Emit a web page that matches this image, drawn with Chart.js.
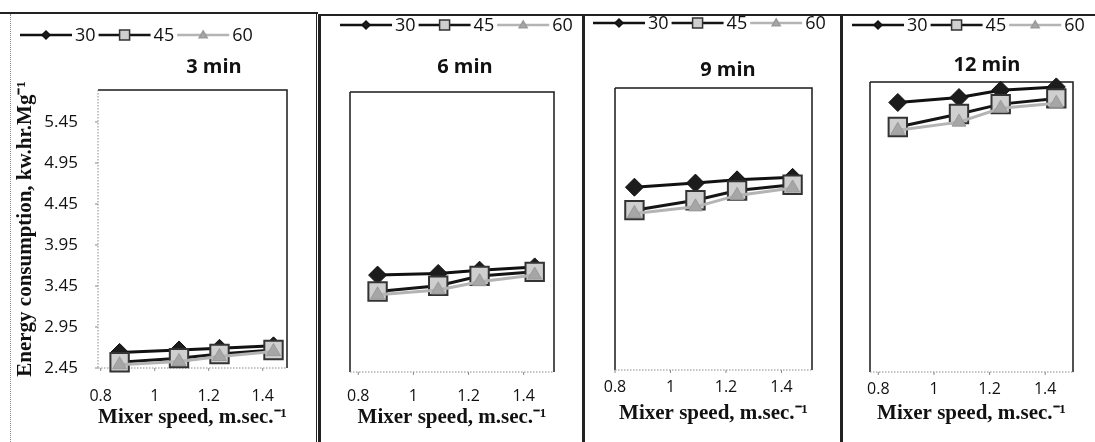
<!DOCTYPE html>
<html>
<head>
<meta charset="utf-8">
<script src="https://cdn.jsdelivr.net/npm/chart.js@4.4.1/dist/chart.umd.min.js"></script>
<style>
body{margin:0;background:#fff;width:1095px;height:442px;overflow:hidden;position:relative}
canvas{position:absolute}
.ln{position:absolute;background:#222}
</style>
</head>
<body>
<div class="ln" style="left:0;top:12px;width:318px;height:2px"></div>
<div style="position:absolute;left:10px;top:14px;width:0;height:428px;border-left:1px dotted #888"></div>
<div class="ln" style="left:316px;top:12px;width:1px;height:430px"></div>
<div class="ln" style="left:321px;top:14px;width:774px;height:2px"></div>
<div class="ln" style="left:318px;top:14px;width:3px;height:428px"></div>
<div class="ln" style="left:582px;top:14px;width:3px;height:428px"></div>
<div class="ln" style="left:840px;top:14px;width:3px;height:428px"></div>
<canvas id="c1" width="306" height="428" style="left:10px;top:14px"></canvas>
<canvas id="c2" width="261" height="426" style="left:321px;top:16px"></canvas>
<canvas id="c3" width="255" height="426" style="left:585px;top:16px"></canvas>
<canvas id="c4" width="252" height="426" style="left:843px;top:16px"></canvas>
<script>
// mixer speed, m/s
let speeds = [0.87, 1.09, 1.24, 1.44];
let xTicks = [0.8, 1, 1.2, 1.4];
let yTicks = [2.45, 2.95, 3.45, 3.95, 4.45, 4.95, 5.45];
let seriesNames = ['30', '45', '60'];

// energy consumption, kw.hr/Mg
let min3_30 = [2.64, 2.67, 2.69, 2.72];
let min3_45 = [2.52, 2.57, 2.62, 2.67];
let min3_60 = [2.49, 2.53, 2.59, 2.65];

let min6_30 = [3.63, 3.65, 3.69, 3.73];
let min6_45 = [3.43, 3.50, 3.62, 3.67];
let min6_60 = [3.39, 3.45, 3.55, 3.63];

let min9_30 = [4.68, 4.73, 4.77, 4.80];
let min9_45 = [4.40, 4.52, 4.64, 4.71];
let min9_60 = [4.36, 4.44, 4.58, 4.67];

let min12_30 = [5.74, 5.80, 5.89, 5.93];
let min12_45 = [5.44, 5.60, 5.72, 5.79];
let min12_60 = [5.40, 5.50, 5.67, 5.73];

function pts(vals) {
    return vals.map((v, i) => ({x: speeds[i], y: v}));
}

function drawMark(ctx, style, x, y, r, fill, stroke) {
    ctx.fillStyle = fill;
    ctx.strokeStyle = stroke;
    ctx.lineWidth = 1.5;
    ctx.beginPath();
    if (style == 'rectRot') {
        ctx.moveTo(x, y - r); ctx.lineTo(x + r, y); ctx.lineTo(x, y + r); ctx.lineTo(x - r, y);
    } else if (style == 'rect') {
        ctx.rect(x - r, y - r, 2 * r, 2 * r);
    } else {
        ctx.moveTo(x, y - r); ctx.lineTo(x + r, y + r * 0.7); ctx.lineTo(x - r, y + r * 0.7);
    }
    ctx.closePath();
    ctx.fill();
    ctx.stroke();
}

const framePlugin = {
    id: 'frame',
    beforeDatasetsDraw(chart, args, opts) {
        const ctx = chart.ctx, a = chart.chartArea;
        ctx.save();
        ctx.strokeStyle = '#1a1a1a';
        ctx.lineWidth = 1.5;
        ctx.beginPath();
        ctx.moveTo(a.left, a.top); ctx.lineTo(a.right, a.top); ctx.lineTo(a.right, a.bottom);
        if (!opts.axisLeft) { ctx.moveTo(a.left, a.top); ctx.lineTo(a.left, a.bottom); }
        ctx.stroke();
        ctx.strokeStyle = '#8a8a8a';
        ctx.lineWidth = 1;
        ctx.setLineDash([1.5, 1.5]);
        ctx.beginPath();
        ctx.moveTo(a.left, a.bottom); ctx.lineTo(a.right, a.bottom);
        if (opts.axisLeft) { ctx.moveTo(a.left, a.top); ctx.lineTo(a.left, a.bottom); }
        ctx.stroke();
        ctx.setLineDash([]);
        ctx.beginPath();
        const xs = chart.scales.x;
        xs.ticks.forEach(t => {
            const px = xs.getPixelForValue(t.value);
            ctx.moveTo(px, a.bottom); ctx.lineTo(px, a.bottom + 3);
        });
        if (opts.axisLeft) {
            const ys = chart.scales.y;
            ys.ticks.forEach(t => {
                const py = ys.getPixelForValue(t.value);
                ctx.moveTo(a.left, py); ctx.lineTo(a.left - 3, py);
            });
        }
        ctx.stroke();
        ctx.restore();
    }
};

const legendPlugin = {
    id: 'panelLegend',
    afterDraw(chart, args, opts) {
        const ctx = chart.ctx;
        ctx.save();
        ctx.font = '18px "Open Sans"';
        ctx.textBaseline = 'middle';
        let x = opts.x;
        const y = opts.y;
        chart.data.datasets.forEach(ds => {
            ctx.strokeStyle = ds.borderColor;
            ctx.lineWidth = 2.5;
            ctx.beginPath(); ctx.moveTo(x, y); ctx.lineTo(x + opts.lineLen, y); ctx.stroke();
            drawMark(ctx, ds.pointStyle, x + opts.lineLen / 2, y, ds.legendRadius, ds.pointBackgroundColor, ds.pointBorderColor);
            x += opts.lineLen + 3;
            ctx.fillStyle = '#111';
            ctx.fillText(ds.label, x, y + 1);
            x += ctx.measureText(ds.label).width + 3;
        });
        ctx.font = 'bold 20px "Open Sans"';
        ctx.textAlign = 'center';
        ctx.fillStyle = '#111';
        ctx.fillText(opts.title, opts.tx, opts.ty);
        ctx.restore();
    }
};

function makeSets(s30, s45, s60) {
    return [
        {label: seriesNames[0], data: pts(s30), borderColor: '#111', borderWidth: 3,
         pointStyle: 'rectRot', pointRadius: 9, pointBackgroundColor: '#1c1c1c', pointBorderColor: '#111',
         pointBorderWidth: 1, legendRadius: 4, order: 3, clip: false},
        {label: seriesNames[1], data: pts(s45), borderColor: '#151515', borderWidth: 3,
         pointStyle: 'rect', pointRadius: 13, pointBackgroundColor: '#cfcfcf', pointBorderColor: '#333',
         pointBorderWidth: 2, legendRadius: 5, order: 2, clip: false},
        {label: seriesNames[2], data: pts(s60), borderColor: '#b4b4b4', borderWidth: 3,
         pointStyle: 'triangle', pointRadius: 8, pointBackgroundColor: '#a6a6a6', pointBorderColor: '#9a9a9a',
         pointBorderWidth: 1, legendRadius: 4, order: 1, clip: false}
    ];
}

function init(p) {
    return new Chart(document.getElementById(p.id), {
        type: 'line',
        data: {datasets: makeSets(p.s30, p.s45, p.s60)},
        plugins: [framePlugin, legendPlugin],
        options: {
            responsive: false,
            animation: false,
            layout: {padding: p.pad},
            plugins: {
                legend: {display: false},
                tooltip: {enabled: false},
                frame: {axisLeft: p.showY},
                panelLegend: {x: p.legendX, y: p.legendY, lineLen: 52, title: p.title, tx: p.titleX, ty: p.titleY}
            },
            scales: {
                x: {
                    type: 'linear', min: p.xMin, max: p.xMax,
                    grid: {display: false, drawTicks: false},
                    border: {display: false},
                    afterBuildTicks: s => { s.ticks = xTicks.map(v => ({value: v})); },
                    afterFit: s => { s.height = p.xH; },
                    ticks: {color: '#111', padding: p.xTickPad, font: {family: 'Open Sans', size: 16},
                            callback: v => String(v)},
                    title: {display: true, text: 'Mixer speed, m.sec.\u207B\u00B9', color: '#111',
                            padding: {top: 0, bottom: p.xTitlePad},
                            font: {family: 'Liberation Serif', size: 21, weight: 'bold'}}
                },
                y: {
                    display: p.showY, min: 2.45, max: p.yMax,
                    grid: {display: false, drawTicks: false},
                    border: {display: false},
                    afterBuildTicks: s => { s.ticks = yTicks.map(v => ({value: v})); },
                    afterFit: s => { s.width = p.showY ? 88 : 0; },
                    ticks: {color: '#111', padding: 20, font: {family: 'Open Sans', size: 17},
                            callback: v => v.toFixed(2)},
                    title: {display: true, text: 'Energy consumption, kw.hr.Mg\u207B\u00B9', color: '#111',
                            padding: {top: 3, bottom: 0},
                            font: {family: 'Liberation Serif', size: 21, weight: 'bold'}}
                }
            }
        }
    });
}

let panels = [
    {id: 'c1', title: '3 min', s30: min3_30, s45: min3_45, s60: min3_60, showY: true,
     pad: {left: 0, top: 76, right: 29, bottom: 0}, xH: 74, xMin: 0.79, xMax: 1.49, yMax: 5.84,
     xTickPad: 19, xTitlePad: 12, legendX: 10, legendY: 21, titleX: 204, titleY: 53},
    {id: 'c2', title: '6 min', s30: min6_30, s45: min6_45, s60: min6_60, showY: false,
     pad: {left: 29, top: 76, right: 28, bottom: 0}, xH: 70, xMin: 0.77, xMax: 1.51, yMax: 5.86,
     xTickPad: 15, xTitlePad: 12, legendX: 19, legendY: 9, titleX: 144, titleY: 51},
    {id: 'c3', title: '9 min', s30: min9_30, s45: min9_45, s60: min9_60, showY: false,
     pad: {left: 30, top: 72, right: 28, bottom: 0}, xH: 72, xMin: 0.8, xMax: 1.51, yMax: 5.89,
     xTickPad: 8, xTitlePad: 16, legendX: 8, legendY: 7, titleX: 143, titleY: 54},
    {id: 'c4', title: '12 min', s30: min12_30, s45: min12_45, s60: min12_60, showY: false,
     pad: {left: 27, top: 66, right: 22, bottom: 0}, xH: 70, xMin: 0.77, xMax: 1.5, yMax: 5.99,
     xTickPad: 8, xTitlePad: 16, legendX: 9, legendY: 9, titleX: 144, titleY: 49}
];

let charts = panels.map(p => init(p));
</script>
</body>
</html>
